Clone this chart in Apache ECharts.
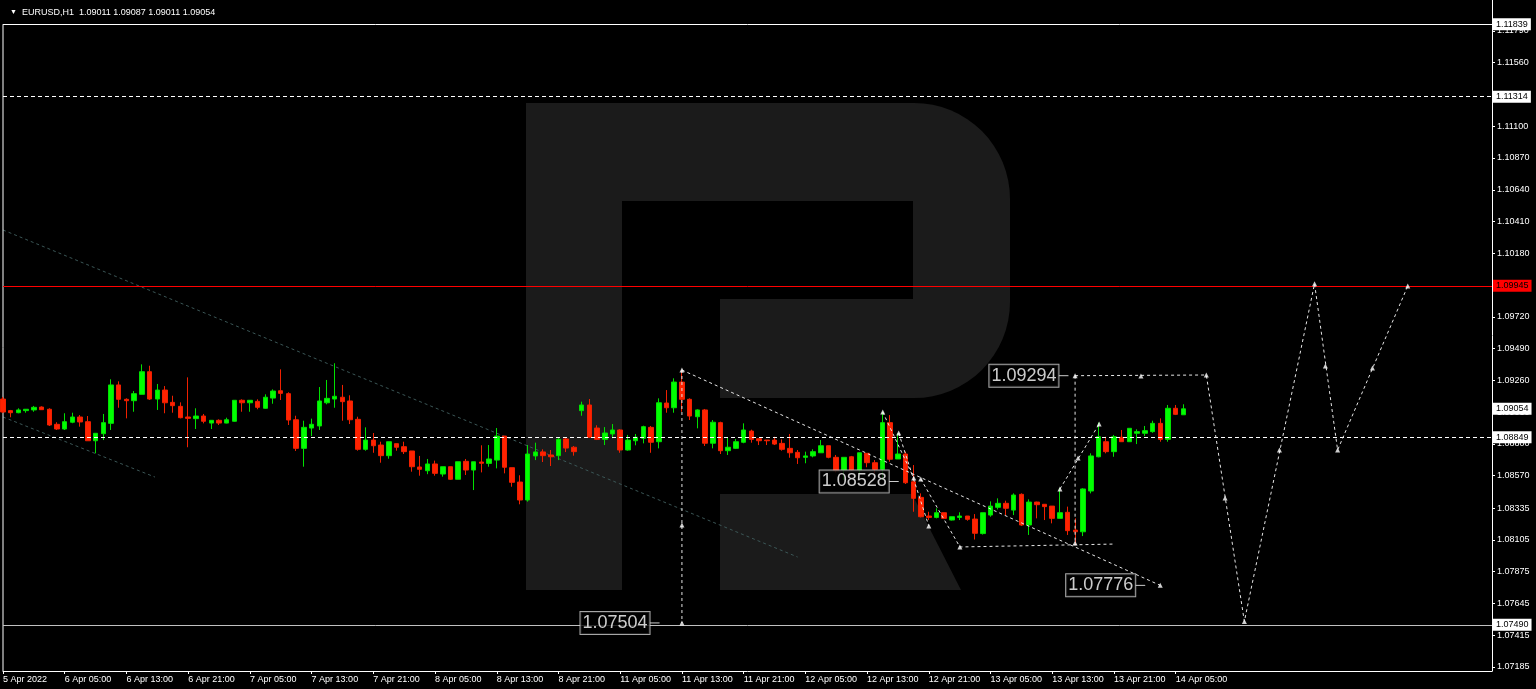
<!DOCTYPE html>
<html><head><meta charset="utf-8">
<script src="https://cdn.jsdelivr.net/npm/echarts@6/dist/echarts.min.js"></script>
<style>html,body{margin:0;padding:0;background:#000;}#c{width:1536px;height:689px;}</style>
</head><body><div id="c"></div>
<script>
const FONT = 'Liberation Sans, DejaVu Sans, sans-serif';

// ---- x axis tick labels (every 8 bars) ----
const xTickLabels = ['5 Apr 2022','6 Apr 05:00','6 Apr 13:00','6 Apr 21:00','7 Apr 05:00','7 Apr 13:00','7 Apr 21:00',
  '8 Apr 05:00','8 Apr 13:00','8 Apr 21:00','11 Apr 05:00','11 Apr 13:00','11 Apr 21:00','12 Apr 05:00',
  '12 Apr 13:00','12 Apr 21:00','13 Apr 05:00','13 Apr 13:00','13 Apr 21:00','14 Apr 05:00'];
// ---- y axis tick values ----
const yTickValues = [1.07185,1.07415,1.07645,1.07875,1.08105,1.08335,1.08570,1.08800,1.09030,1.09260,1.09490,
  1.09720,1.09950,1.10180,1.10410,1.10640,1.10870,1.11100,1.11330,1.11560,1.11790];

// ---- EURUSD H1 candles (5 Apr 21:00 .. 14 Apr 06:00) ----
const openP = [1.09125,1.09041,1.09026,1.09041,1.09046,1.09067,1.09051,1.08942,1.08908,1.08957,
1.08995,1.08961,1.08823,1.08874,1.08949,1.09227,1.09123,1.09113,1.09159,1.09323,
1.09125,1.09190,1.09101,1.09072,1.08995,1.08983,1.09002,1.08951,1.08971,1.08951,
1.08964,1.09116,1.09098,1.09108,1.09058,1.09132,1.09185,1.09164,1.08975,1.08768,
1.08915,1.08930,1.09098,1.09125,1.09138,1.09111,1.08978,1.08761,1.08828,1.08792,
1.08715,1.08802,1.08780,1.08749,1.08633,1.08606,1.08655,1.08582,1.08635,1.08544,
1.08674,1.08611,1.08669,1.08659,1.08683,1.08857,1.08628,1.08524,1.08394,1.08713,
1.08742,1.08720,1.08715,1.08836,1.08776,1.09041,1.09082,1.08915,1.08833,1.08872,
1.08901,1.08756,1.08823,1.08841,1.08920,1.08816,1.09096,1.09062,1.09248,1.09123,
1.08997,1.09046,1.08805,1.08954,1.08751,1.08768,1.08812,1.08893,1.08838,1.08828,
1.08828,1.08804,1.08768,1.08739,1.08703,1.08713,1.08736,1.08787,1.08703,1.08611,
1.08707,1.08611,1.08732,1.08664,1.08616,1.08954,1.08691,1.08727,1.08526,1.08413,
1.08278,1.08268,1.08302,1.08249,1.08268,1.08278,1.08256,1.08151,1.08285,1.08341,
1.08370,1.08321,1.08435,1.08213,1.08379,1.08363,1.08350,1.08261,1.08305,1.08176,
1.08164,1.08459,1.08707,1.08816,1.08744,1.08848,1.08816,1.08877,1.08877,1.08889,
1.08949,1.08833,1.09058,1.09011];
const highP = [1.09140,1.09046,1.09058,1.09051,1.09075,1.09072,1.09058,1.08957,1.09022,1.09026,
1.09009,1.09002,1.08877,1.09017,1.09268,1.09253,1.09130,1.09183,1.09376,1.09366,
1.09234,1.09219,1.09149,1.09101,1.09282,1.09058,1.09017,1.08971,1.08978,1.08990,
1.09116,1.09123,1.09116,1.09123,1.09159,1.09195,1.09340,1.09174,1.09004,1.08968,
1.08983,1.09212,1.09263,1.09384,1.09227,1.09152,1.08997,1.08920,1.08879,1.08816,
1.08816,1.08802,1.08816,1.08749,1.08713,1.08691,1.08679,1.08635,1.08635,1.08671,
1.08691,1.08671,1.08790,1.08792,1.08915,1.08857,1.08628,1.08573,1.08792,1.08809,
1.08761,1.08756,1.08848,1.08843,1.08785,1.09106,1.09125,1.08935,1.08922,1.08944,
1.08906,1.08865,1.08872,1.08932,1.08930,1.09130,1.09190,1.09275,1.09335,1.09130,
1.09051,1.09053,1.08973,1.08961,1.08845,1.08836,1.08949,1.08903,1.08838,1.08828,
1.08852,1.08833,1.08872,1.08756,1.08744,1.08761,1.08828,1.08787,1.08720,1.08703,
1.08713,1.08736,1.08732,1.08683,1.09033,1.09009,1.08877,1.08744,1.08647,1.08442,
1.08309,1.08334,1.08302,1.08273,1.08305,1.08278,1.08292,1.08302,1.08384,1.08406,
1.08389,1.08442,1.08442,1.08399,1.08382,1.08363,1.08350,1.08479,1.08346,1.08261,
1.08479,1.08732,1.08954,1.08852,1.08865,1.08901,1.08913,1.08906,1.08930,1.08968,
1.08985,1.09082,1.09082,1.09087];
const lowP = [1.09024,1.08993,1.09022,1.09026,1.09033,1.09046,1.08930,1.08901,1.08901,1.08950,
1.08925,1.08823,1.08732,1.08828,1.08901,1.09062,1.08985,1.09033,1.09159,1.09118,
1.09046,1.09022,1.09026,1.08985,1.08776,1.08908,1.08949,1.08908,1.08937,1.08949,
1.08961,1.09033,1.09033,1.09051,1.09055,1.09091,1.09118,1.08937,1.08749,1.08635,
1.08857,1.08901,1.09087,1.09062,1.08968,1.08944,1.08751,1.08751,1.08736,1.08664,
1.08693,1.08751,1.08727,1.08599,1.08570,1.08581,1.08570,1.08563,1.08539,1.08544,
1.08575,1.08466,1.08594,1.08635,1.08623,1.08587,1.08490,1.08363,1.08382,1.08683,
1.08669,1.08640,1.08683,1.08741,1.08715,1.09004,1.08845,1.08828,1.08792,1.08841,
1.08736,1.08751,1.08790,1.08804,1.08736,1.08768,1.09026,1.09026,1.09033,1.08973,
1.08913,1.08785,1.08768,1.08727,1.08720,1.08763,1.08805,1.08809,1.08792,1.08792,
1.08792,1.08751,1.08700,1.08655,1.08660,1.08703,1.08736,1.08696,1.08594,1.08539,
1.08606,1.08582,1.08631,1.08587,1.08539,1.08671,1.08691,1.08510,1.08309,1.08268,
1.08249,1.08261,1.08256,1.08246,1.08249,1.08244,1.08108,1.08144,1.08273,1.08326,
1.08285,1.08285,1.08206,1.08141,1.08261,1.08249,1.08225,1.08261,1.08141,1.08068,
1.08133,1.08442,1.08703,1.08732,1.08707,1.08816,1.08816,1.08799,1.08857,1.08881,
1.08816,1.08816,1.09009,1.09011];
const closeP = [1.09031,1.09026,1.09046,1.09051,1.09065,1.09048,1.08937,1.08908,1.08961,1.08995,
1.08959,1.08823,1.08877,1.08954,1.09227,1.09123,1.09113,1.09164,1.09323,1.09125,
1.09190,1.09098,1.09077,1.08990,1.08985,1.09002,1.08964,1.08971,1.08951,1.08975,
1.09116,1.09098,1.09116,1.09065,1.09138,1.09183,1.09166,1.08973,1.08768,1.08920,
1.08942,1.09111,1.09130,1.09145,1.09106,1.08975,1.08761,1.08828,1.08787,1.08715,
1.08816,1.08776,1.08744,1.08635,1.08616,1.08655,1.08587,1.08635,1.08544,1.08671,
1.08611,1.08671,1.08660,1.08691,1.08857,1.08631,1.08522,1.08394,1.08727,1.08742,
1.08715,1.08707,1.08833,1.08770,1.08744,1.09082,1.08848,1.08833,1.08879,1.08901,
1.08756,1.08828,1.08848,1.08925,1.08812,1.09098,1.09062,1.09248,1.09123,1.09002,
1.09046,1.08805,1.08957,1.08751,1.08776,1.08816,1.08901,1.08833,1.08823,1.08823,
1.08799,1.08761,1.08736,1.08700,1.08713,1.08744,1.08787,1.08703,1.08606,1.08703,
1.08611,1.08736,1.08664,1.08616,1.08954,1.08689,1.08727,1.08519,1.08406,1.08273,
1.08268,1.08302,1.08261,1.08273,1.08278,1.08254,1.08153,1.08302,1.08350,1.08370,
1.08334,1.08430,1.08213,1.08379,1.08360,1.08346,1.08261,1.08302,1.08172,1.08164,
1.08474,1.08713,1.08852,1.08744,1.08852,1.08816,1.08913,1.08889,1.08896,1.08949,
1.08833,1.09058,1.09014,1.09054];

// ---- horizontal levels ----
const levelTop = 1.11839, levelDash1 = 1.11314, levelRed = 1.09945, levelDash2 = 1.08849, levelLow = 1.07490;
const bidPrice = 1.09054;

// ---- analysis drawings: [bar index, price] ----
const mainDiag = [[88,1.09335],[150,1.07776]];
const peakDrop = [[88,1.09335],[88,1.07504]];
const fan1 = [[114.03,1.09031],[118.05,1.08553]];
const fan2 = [[116.1,1.08879],[120.0,1.08206]];
const fan3 = [[118.96,1.08546],[124.03,1.08054],[144.0,1.08075]];
const riseLine = [[137.0,1.08474],[142.08,1.08944]];
const vertLine = [[138.96,1.09294],[138.96,1.08083]];
const forecast = [[138.96,1.09294],[155.97,1.09299],[160.9,1.07515],[170.0,1.09960],[172.99,1.08756],[182.08,1.09943]];
const grayTrend1 = [[0,1.10349],[103,1.07981]];
const grayTrend2 = [[0,1.08995],[19.7,1.08560]];
const frameLeft = [[0,1.11839],[0,1.07156]];
const markerPts = [[88,1.09335],[88,1.08213],[88,1.07504],[114.03,1.09031],[116.1,1.08879],[118.05,1.08553],
  [118.96,1.08546],[120.0,1.08206],[124.03,1.08054],[137.0,1.08474],[139.35,1.08698],[142.08,1.08944],
  [138.96,1.08083],[138.96,1.09294],[147.5,1.09292],[155.97,1.09299],[158.4,1.08408],[160.9,1.07515],
  [165.45,1.08756],[170.0,1.09960],[171.4,1.09364],[172.99,1.08756],[177.5,1.09350],[182.08,1.09943],[150,1.07776]];
const priceLabels = [[85.1,1.07504],[116.1,1.08528],[138.1,1.09294],[148.05,1.07776]];

// ---- categories: hourly bars, weekends skipped ----
const MON = ['Jan','Feb','Mar','Apr','May','Jun','Jul','Aug','Sep','Oct','Nov','Dec'];
const NBARS = 194;
const categories = [];
let t = Date.UTC(2022,3,5,21);
while (categories.length < NBARS) {
  const d = new Date(t);
  const wd = d.getUTCDay();
  if (wd !== 0 && wd !== 6) {
    categories.push(d.getUTCDate() + ' ' + MON[d.getUTCMonth()] + ' ' + String(d.getUTCHours()).padStart(2,'0') + ':00');
  }
  t += 3600000;
}
const candleData = openP.map((o,i) => [o, closeP[i], lowP[i], highP[i]]);

const Y_MIN = 1.07156, Y_MAX = 1.12014;
const showTick = (idx) => idx % 8 === 0 && idx / 8 < xTickLabels.length;

function boxLabel(bg, fg) {
  return {show:true, position:'end', distance:1, formatter: p => Number(p.value).toFixed(5),
    color:fg, backgroundColor:bg, padding:[1,3,0,3], fontSize:9, lineHeight:11, fontFamily:FONT};
}
const dashW = [3,3];
function drawLine(data, color, dash, z) {
  return {type:'line', xAxisIndex:1, yAxisIndex:0, data, symbol:'none', silent:true, z: z || 4,
    lineStyle:{color, width:1, type:dash}, animation:false};
}

const chart = echarts.init(document.getElementById('c'), null, {renderer:'canvas'});
const G = '#1b1b1b';
chart.setOption({
  backgroundColor:'#000',
  animation:false,
  title:{text:'{t|▼}  EURUSD,H1  1.09011 1.09087 1.09011 1.09054', left:5, top:3,
    textStyle:{color:'#fff', fontSize:9, fontWeight:'normal', fontFamily:FONT,
      rich:{t:{fontSize:7, color:'#fff'}}}},
  graphic:[
    {type:'rect', z:-10, silent:true, shape:{x:526,y:103,width:96,height:487}, style:{fill:G}},
    {type:'rect', z:-10, silent:true, shape:{x:526,y:103,width:484,height:295,r:[0,96,96,0]}, style:{fill:G}},
    {type:'rect', z:-9, silent:true, shape:{x:622,y:201,width:291,height:98}, style:{fill:'#000'}},
    {type:'rect', z:-9, silent:true, shape:{x:622,y:299,width:98,height:99}, style:{fill:'#000'}},
    {type:'polygon', z:-10, silent:true, shape:{points:[[720,494],[912,494],[961,590],[720,590]]}, style:{fill:G}}
  ],
  grid:{left:3, right:44, top:0, bottom:18, containLabel:false},
  xAxis:[
    {type:'category', data:categories, boundaryGap:false,
     axisLine:{show:true, onZero:false, lineStyle:{color:'#ffffff', width:1}},
     axisTick:{show:true, interval:showTick, length:3, lineStyle:{color:'#ffffff'}},
     axisLabel:{show:true, interval:showTick, formatter:(v,idx)=>xTickLabels[idx/8], align:'left',
       color:'#ffffff', fontSize:9, fontFamily:FONT, margin:4},
     splitLine:{show:false}},
    {type:'value', min:0, max:NBARS-1, show:false, axisLine:{onZero:false}}
  ],
  yAxis:[
    {type:'value', position:'right', min:Y_MIN, max:Y_MAX, scale:true,
     axisLine:{show:true, onZero:false, lineStyle:{color:'#ffffff'}},
     axisTick:{show:true, customValues:yTickValues, length:3, lineStyle:{color:'#ffffff'}},
     axisLabel:{show:true, customValues:yTickValues, formatter:v=>Number(v).toFixed(5),
       color:'#ffffff', fontSize:9, fontFamily:FONT, margin:5},
     splitLine:{show:false}}
  ],
  series:[
    drawLine(grayTrend1, '#3b5656', [3,3], 1),
    drawLine(grayTrend2, '#3b5656', [3,3], 1),
    drawLine(frameLeft, '#ffffff', 'solid', 1),
    {type:'candlestick', data:candleData, barWidth:5, z:2,
     itemStyle:{color:'#00ff00', color0:'#ff2200', borderColor:'#00e000', borderColor0:'#f02000', borderWidth:1},
     markLine:{symbol:'none', silent:true, animation:false, precision:5, z:3,
       data:[
         {yAxis:levelTop, lineStyle:{color:'#ffffff', type:'solid', width:1}, label:boxLabel('#ffffff','#000')},
         {yAxis:levelDash1, lineStyle:{color:'#ffffff', type:[4,3], width:1}, label:boxLabel('#ffffff','#000')},
         {yAxis:levelRed, lineStyle:{color:'#ff0000', type:'solid', width:1}, label:boxLabel('#ff0000','#000')},
         {yAxis:levelDash2, lineStyle:{color:'#ffffff', type:[4,3], width:1}, label:boxLabel('#ffffff','#000')},
         {yAxis:levelLow, lineStyle:{color:'#c0c0c0', type:'solid', width:1}, label:boxLabel('#ffffff','#000')},
         {yAxis:bidPrice, lineStyle:{color:'rgba(0,0,0,0)', width:0}, label:boxLabel('#ffffff','#000')}
       ]}},
    drawLine(mainDiag, '#e6e6e6', dashW),
    drawLine(peakDrop, '#e6e6e6', dashW),
    drawLine(fan1, '#e6e6e6', dashW),
    drawLine(fan2, '#e6e6e6', dashW),
    drawLine(fan3, '#e6e6e6', dashW),
    drawLine(riseLine, '#e6e6e6', dashW),
    drawLine(vertLine, '#e6e6e6', dashW),
    drawLine(forecast, '#e6e6e6', dashW),
    {type:'scatter', xAxisIndex:1, data:markerPts, symbol:'triangle', symbolSize:5, silent:true, z:5,
     itemStyle:{color:'#ffffff'}},
    {type:'scatter', xAxisIndex:1, data:priceLabels, symbol:'rect', symbolSize:[10,1], symbolOffset:[-5,0],
     silent:true, z:6, itemStyle:{color:'#ffffff'},
     label:{show:true, position:'left', distance:0, formatter:p=>p.value[1].toFixed(5),
       color:'#ffffff', backgroundColor:'#000000', borderColor:'#d0d0d0', borderWidth:1,
       padding:[2,2,0,2], fontSize:18, lineHeight:20, fontFamily:FONT}}
  ]
});
</script></body></html>
